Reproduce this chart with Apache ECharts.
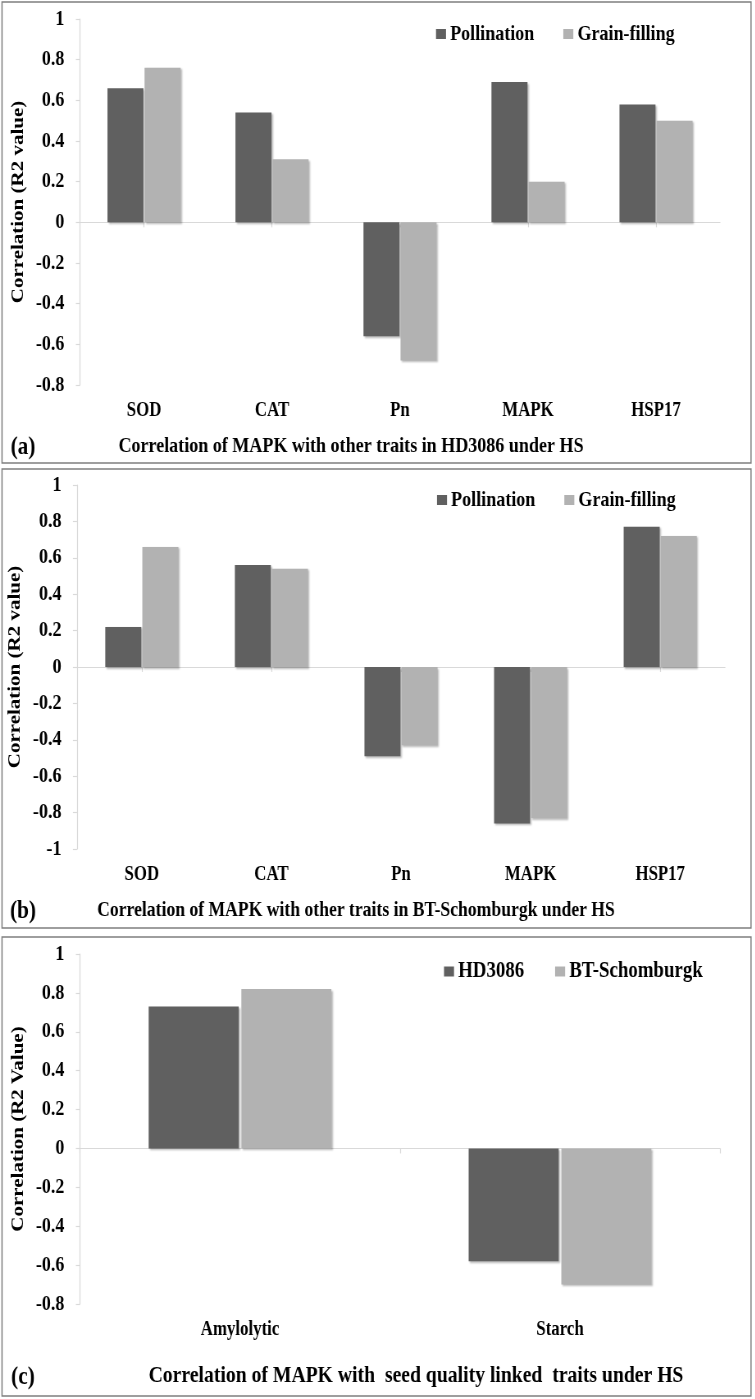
<!DOCTYPE html>
<html><head><meta charset="utf-8">
<script src="https://cdn.jsdelivr.net/npm/echarts@6/dist/echarts.min.js"></script>
<style>
html,body{margin:0;padding:0;background:#fff;width:755px;height:1399px;overflow:hidden}
#c{width:921px;height:1399px;transform:scaleX(0.82);transform-origin:0 0}
</style>
</head><body><div id="c"></div>
<script>
// ---- data ----
const categoriesAB = ['SOD', 'CAT', 'Pn', 'MAPK', 'HSP17'];
const aPollination = [0.66, 0.54, -0.56, 0.69, 0.58];
const aGrainFilling = [0.76, 0.31, -0.68, 0.20, 0.50];
const bPollination = [0.22, 0.56, -0.49, -0.86, 0.77];
const bGrainFilling = [0.66, 0.54, -0.43, -0.83, 0.72];
const categoriesC = ['Amylolytic', 'Starch'];
const cHD3086 = [0.73, -0.58];
const cBTSchomburgk = [0.82, -0.70];
const seriesNamesAB = ['Pollination', 'Grain-filling'];
const seriesNamesC = ['HD3086', 'BT-Schomburgk'];
const titles = [
  'Correlation of MAPK with other traits in HD3086 under HS',
  'Correlation of MAPK with other traits in BT-Schomburgk under HS',
  'Correlation of MAPK with  seed quality linked  traits under HS'
];
const panelTags = ['(a)', '(b)', '(c)'];
const yNames = ['Correlation (R2 value)', 'Correlation (R2 value)', 'Correlation (R2 Value)'];

// ---- style / layout ----
// the chart is drawn in a wider box and condensed horizontally (Times-like condensed look)
const S = 0.82;
const X = v => v / S;
const FONT = "'Liberation Serif','Times New Roman',serif";
const DARK = '#606060', LIGHT = '#b2b2b2', AXIS = '#d9d9d9';
const txt = (size) => ({fontFamily: FONT, fontWeight: 'bold', fontSize: size, color: '#000'});

const grids = [
  {left: X(80), top: 19, width: X(640), height: 366},
  {left: X(77), top: 485, width: X(648), height: 364},
  {left: X(80), top: 954, width: X(640), height: 350}
];
const yRanges = [[-0.8, 1], [-1, 1], [-0.8, 1]];

function labelAxis(gi, cats) {
  return {type: 'category', gridIndex: gi, data: cats, position: 'bottom',
    axisLine: {show: false, onZero: false}, axisTick: {show: false},
    axisLabel: Object.assign({margin: 15}, txt(20.5))};
}
function zeroAxis(gi, cats, align) {
  return {type: 'category', gridIndex: gi, data: cats, position: 'bottom',
    axisLine: {show: true, onZero: true, lineStyle: {color: AXIS, width: 1.2}},
    axisTick: {show: true, alignWithLabel: align, length: 5, lineStyle: {color: AXIS, width: 1.2}},
    axisLabel: {show: false}};
}
function yAxis(gi) {
  return {type: 'value', gridIndex: gi, min: yRanges[gi][0], max: yRanges[gi][1], interval: 0.2,
    name: yNames[gi], nameLocation: 'middle', nameRotate: 90, nameGap: 64,
    nameTextStyle: txt(21),
    axisLine: {show: true, lineStyle: {color: AXIS, width: 1.2}},
    axisTick: {show: true, length: 5, lineStyle: {color: AXIS, width: 1.2}},
    splitLine: {show: false},
    axisLabel: Object.assign({margin: 19, formatter: v => String(Math.round(v * 10) / 10)}, txt(22))};
}
const shadow = {shadowColor: 'rgba(0,0,0,0.28)', shadowBlur: 2, shadowOffsetX: 1.5, shadowOffsetY: 1.5};
function bar(name, data, gi, color, w) {
  return {type: 'bar', name, data, xAxisIndex: gi * 2, yAxisIndex: gi, barWidth: X(w), barGap: '3%',
    itemStyle: Object.assign({color}, shadow), emphasis: {disabled: true}};
}
function legend(names, left, top, gap, size) {
  return {data: names, left: X(left), top, padding: 0, icon: 'rect', itemWidth: X(10), itemHeight: 10, itemGap: X(gap),
    textStyle: Object.assign({padding: [0, 0, 0, 0]}, txt(size))};
}
function label(text, x, y, size) {
  return {type: 'text', silent: true, x: X(x), y,
    style: {text, fill: '#000', fontFamily: FONT, fontWeight: 'bold', fontSize: size, align: 'center', verticalAlign: 'middle'}};
}
function border(y, h) {
  return {type: 'rect', silent: true, z: -1, shape: {x: X(2), y, width: X(749), height: h},
    style: {fill: 'none', stroke: '#7f7f7f', lineWidth: 1.5}};
}

const option = {
  animation: false,
  backgroundColor: '#fff',
  grid: grids,
  xAxis: [labelAxis(0, categoriesAB), zeroAxis(0, categoriesAB, true),
          labelAxis(1, categoriesAB), zeroAxis(1, categoriesAB, true),
          labelAxis(2, categoriesC), zeroAxis(2, categoriesC, false)],
  yAxis: [yAxis(0), yAxis(1), yAxis(2)],
  legend: [legend(seriesNamesAB, 436, 23, 29, 22), legend(seriesNamesAB, 437, 489, 29, 22), legend(seriesNamesC, 444, 960, 31, 23)],
  graphic: [
    border(2, 461), border(469, 459), border(937, 459),
    label(panelTags[0], 23, 447, 26), label(titles[0], 351, 446, 22),
    label(panelTags[1], 23, 911, 26), label(titles[1], 356, 910, 21.5),
    label(panelTags[2], 23, 1377, 26), label(titles[2], 416, 1376, 24)
  ],
  series: [
    bar(seriesNamesAB[0], aPollination, 0, DARK, 36),
    bar(seriesNamesAB[1], aGrainFilling, 0, LIGHT, 36),
    bar(seriesNamesAB[0], bPollination, 1, DARK, 36),
    bar(seriesNamesAB[1], bGrainFilling, 1, LIGHT, 36),
    bar(seriesNamesC[0], cHD3086, 2, DARK, 90),
    bar(seriesNamesC[1], cBTSchomburgk, 2, LIGHT, 90)
  ]
};
const chart = echarts.init(document.getElementById('c'), null, {renderer: 'canvas'});
chart.setOption(option);
</script>
</body></html>
